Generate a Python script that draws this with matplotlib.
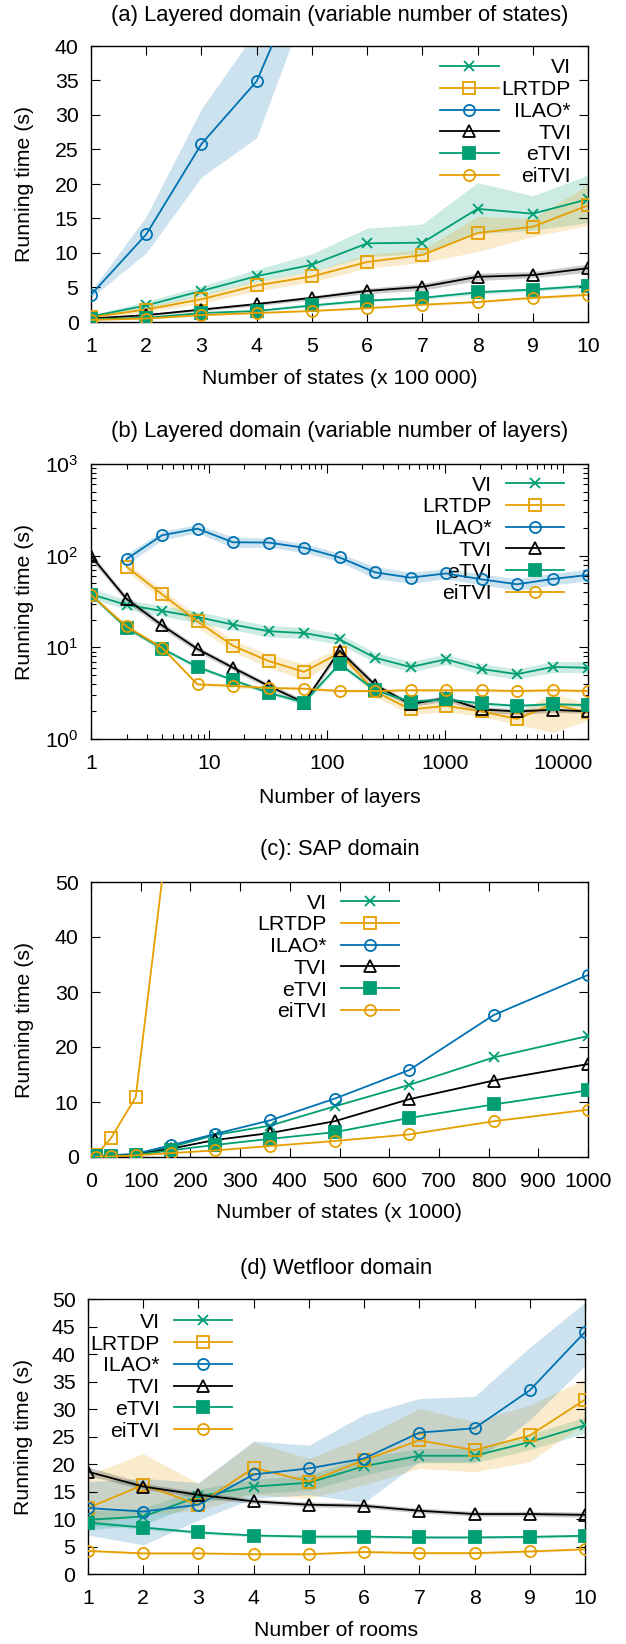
import matplotlib
matplotlib.use("Agg")
import matplotlib.pyplot as plt
import matplotlib.ticker as mticker

plt.rcParams["font.family"] = ["Liberation Sans", "DejaVu Sans"]
plt.rcParams["font.size"] = 15.3
plt.rcParams["mathtext.default"] = "regular"

ALGOS = ["VI", "LRTDP", "ILAO*", "TVI", "eTVI", "eiTVI"]
COLORS = ["#009e73", "#e69f00", "#0072b2", "#000000", "#009e73", "#e69f00"]
MARKERS = ["x", "s", "o", "^", "s", "o"]

# (a) layered domain, variable number of states (x 100 000)
a_x = [1, 2, 3, 4, 5, 6, 7, 8, 9, 10]
a_x_of = {"ILAO*": [1, 2, 3, 4, 5]}
a_mean = {
    "VI":    [0.8, 2.4, 4.5, 6.65, 8.3, 11.4, 11.5, 16.4, 15.7, 17.8],
    "LRTDP": [0.7, 1.8, 3.3, 5.3, 6.6, 8.7, 9.7, 12.9, 13.8, 16.9],
    "ILAO*": [3.95, 12.7, 25.8, 34.9, 53.5],
    "TVI":   [0.5, 1.0, 1.8, 2.6, 3.5, 4.5, 5.1, 6.55, 6.8, 7.8],
    "eTVI":  [0.4, 0.6, 1.3, 1.6, 2.4, 3.1, 3.5, 4.3, 4.7, 5.25],
    "eiTVI": [0.3, 0.5, 1.0, 1.3, 1.6, 2.0, 2.5, 2.9, 3.5, 3.95],
}
a_lo = {
    "VI":    [0.6, 2.0, 3.8, 5.9, 7.3, 9.5, 9.9, 12.8, 13.3, 14.4],
    "LRTDP": [0.5, 1.4, 2.7, 4.5, 5.8, 7.8, 8.6, 10.2, 12.4, 14.0],
    "ILAO*": [3.5, 10.0, 21.0, 26.7, 48.2],
    "TVI":   [0.4, 0.85, 1.6, 2.35, 3.2, 4.1, 4.6, 6.0, 6.4, 7.2],
    "eTVI":  [0.3, 0.5, 1.15, 1.45, 2.2, 2.9, 3.3, 4.0, 4.45, 4.95],
    "eiTVI": [0.25, 0.45, 0.9, 1.2, 1.5, 1.85, 2.35, 2.75, 3.3, 3.75],
}
a_hi = {
    "VI":    [1.0, 3.0, 5.2, 7.6, 9.9, 13.6, 14.2, 20.2, 18.3, 21.3],
    "LRTDP": [0.9, 2.2, 3.9, 6.0, 7.3, 9.8, 10.5, 15.3, 15.0, 19.9],
    "ILAO*": [4.5, 15.3, 30.9, 42.3, 70.0],
    "TVI":   [0.6, 1.15, 2.0, 2.85, 3.8, 4.9, 5.6, 7.1, 7.3, 8.4],
    "eTVI":  [0.5, 0.7, 1.45, 1.75, 2.6, 3.3, 3.7, 4.6, 4.95, 5.55],
    "eiTVI": [0.35, 0.55, 1.1, 1.4, 1.7, 2.15, 2.65, 3.05, 3.7, 4.15],
}

# (b) layered domain, variable number of layers
b_x = [1, 2, 4, 8, 16, 32, 64, 128, 256, 512, 1024, 2048, 4096, 8192, 16384]
b_x_of = {"LRTDP": b_x[1:], "ILAO*": b_x[1:]}
b_mean = {
    "VI":    [38, 29, 25, 21.4, 17.7, 15, 14.3, 12.2, 7.7, 6.1, 7.4, 5.8, 5.1, 6.1, 6.0],
    "LRTDP": [75.7, 38, 19.2, 10.4, 7.1, 5.4, 8.7, 3.3, 2.1, 2.3, 2.0, 1.65, 2.4, 1.95],
    "ILAO*": [91.7, 167, 197, 140, 139, 122, 95.6, 65.8, 57.6, 64, 55.2, 48.7, 55.7, 61.5],
    "TVI":   [99.6, 33.8, 17.4, 9.6, 6.0, 3.8, 2.5, 9.2, 3.9, 2.4, 2.8, 2.1, 2.0, 2.08, 2.0],
    "eTVI":  [37.3, 16.3, 9.7, 6.1, 4.4, 3.2, 2.5, 6.6, 3.4, 2.56, 2.7, 2.44, 2.3, 2.4, 2.34],
    "eiTVI": [37.3, 16.9, 9.9, 3.95, 3.8, 3.6, 3.54, 3.34, 3.34, 3.4, 3.4, 3.4, 3.34, 3.4, 3.34],
}
b_lo = {
    "VI":    [34, 26, 22, 18.5, 15.5, 13, 12.5, 10.8, 6.8, 5.4, 6.5, 5.1, 4.5, 5.3, 5.3],
    "LRTDP": [68, 33, 16.5, 9.0, 6.0, 4.4, 7.6, 2.9, 1.85, 2.0, 1.75, 1.45, 1.18, 1.6],
    "ILAO*": [80, 148, 178, 122, 124, 108, 86, 56, 50, 56, 48, 42, 48, 53],
    "TVI":   [90, 31, 16, 8.9, 5.6, 3.55, 2.35, 8.4, 3.6, 2.25, 2.6, 1.95, 1.85, 1.95, 1.9],
    "eTVI":  [35.5, 15.5, 9.2, 5.8, 4.2, 3.05, 2.38, 6.2, 3.25, 2.45, 2.58, 2.33, 2.2, 2.3, 2.24],
    "eiTVI": [35.8, 16.2, 9.5, 3.8, 3.65, 3.46, 3.4, 3.22, 3.22, 3.28, 3.28, 3.28, 3.22, 3.28, 3.22],
}
b_hi = {
    "VI":    [44, 33, 28.5, 24.5, 20.5, 17.2, 16.5, 14, 8.8, 7.0, 8.4, 6.6, 5.8, 7.0, 7.0],
    "LRTDP": [84, 43, 22, 12, 8.4, 6.6, 9.8, 3.8, 2.4, 2.6, 2.3, 1.9, 3.2, 2.4],
    "ILAO*": [104, 185, 218, 160, 155, 136, 106, 76, 66, 72, 63, 56, 64, 71],
    "TVI":   [108, 36.5, 18.8, 10.3, 6.4, 4.05, 2.7, 10, 4.2, 2.55, 3.0, 2.25, 2.15, 2.2, 2.1],
    "eTVI":  [39.2, 17.1, 10.2, 6.4, 4.6, 3.35, 2.62, 7.0, 3.55, 2.68, 2.83, 2.55, 2.4, 2.5, 2.45],
    "eiTVI": [38.8, 17.6, 10.3, 4.1, 3.95, 3.74, 3.68, 3.46, 3.46, 3.52, 3.52, 3.52, 3.46, 3.52, 3.46],
}

# (c) SAP domain (x 1000 states)
c_x = [10, 40, 90, 160, 250, 360, 490, 640, 810, 1000]
c_x_of = {"LRTDP": c_x[:4]}
c_mean = {
    "VI":    [0.2, 0.2, 0.5, 1.8, 4.0, 5.7, 9.2, 13.1, 18.1, 22.0],
    "LRTDP": [0.3, 3.4, 10.9, 63.0],
    "ILAO*": [0.2, 0.3, 0.6, 2.1, 4.2, 6.65, 10.6, 15.8, 25.8, 33.1],
    "TVI":   [0.1, 0.1, 0.4, 1.5, 3.1, 4.35, 6.5, 10.5, 13.9, 16.9],
    "eTVI":  [0.1, 0.1, 0.4, 1.2, 2.2, 3.3, 4.5, 7.1, 9.55, 12.1],
    "eiTVI": [0.05, 0.1, 0.3, 0.7, 1.2, 2.0, 2.9, 4.1, 6.5, 8.6],
}

# (d) Wetfloor domain
d_x = [1, 2, 3, 4, 5, 6, 7, 8, 9, 10]
d_mean = {
    "VI":    [9.85, 10.45, 14.1, 15.9, 16.6, 19.6, 21.5, 21.5, 24.0, 27.05],
    "LRTDP": [12.0, 16.2, 12.6, 19.3, 16.8, 20.7, 24.3, 22.5, 25.2, 31.7],
    "ILAO*": [12.0, 11.35, 12.6, 18.1, 19.2, 21.0, 25.7, 26.5, 33.4, 44.0],
    "TVI":   [18.6, 15.9, 14.4, 13.2, 12.6, 12.4, 11.5, 10.9, 10.9, 10.75],
    "eTVI":  [9.35, 8.45, 7.55, 7.0, 6.8, 6.8, 6.65, 6.65, 6.75, 6.95],
    "eiTVI": [4.2, 3.75, 3.75, 3.6, 3.6, 4.0, 3.8, 3.8, 4.1, 4.5],
}
d_lo = {
    "VI":    [8.0, 9.0, 12.8, 14.6, 15.2, 18.0, 20.2, 20.2, 22.6, 25.6],
    "LRTDP": [9.0, 10.7, 11.6, 14.4, 13.8, 16.2, 19.2, 18.6, 20.4, 27.5],
    "ILAO*": [7.1, 5.3, 9.8, 13.8, 14.4, 13.0, 20.4, 20.4, 28.0, 37.9],
    "TVI":   [17.9, 15.4, 13.9, 12.8, 12.2, 12.0, 11.1, 10.5, 10.5, 10.3],
    "eTVI":  [9.0, 8.15, 7.25, 6.75, 6.55, 6.55, 6.4, 6.4, 6.5, 6.7],
    "eiTVI": [4.0, 3.55, 3.55, 3.4, 3.4, 3.8, 3.6, 3.6, 3.9, 4.3],
}
d_hi = {
    "VI":    [11.5, 12.0, 15.4, 17.2, 18.0, 21.2, 22.8, 22.8, 25.4, 28.5],
    "LRTDP": [18.0, 21.9, 16.5, 24.0, 21.0, 25.0, 30.1, 27.7, 30.7, 35.5],
    "ILAO*": [16.8, 17.4, 16.6, 24.2, 23.4, 29.0, 31.9, 32.3, 41.2, 49.4],
    "TVI":   [19.5, 16.5, 14.9, 13.7, 13.1, 12.9, 12.0, 11.4, 11.4, 11.3],
    "eTVI":  [9.7, 8.75, 7.85, 7.25, 7.05, 7.05, 6.9, 6.9, 7.0, 7.2],
    "eiTVI": [4.4, 3.95, 3.95, 3.8, 3.8, 4.2, 4.0, 4.0, 4.3, 4.7],
}


def draw_series(ax, x, x_of, mean, lo=None, hi=None):
    if lo is not None:
        for name, color in zip(ALGOS, COLORS):
            xs = x_of.get(name, x)
            ax.fill_between(xs, lo[name], hi[name], color=color, alpha=0.2,
                            linewidth=0, zorder=1)
    for name, color, marker in zip(ALGOS, COLORS, MARKERS):
        xs = x_of.get(name, x)
        face = color if name == "eTVI" else "none"
        size = 7.5 if marker == "x" else 8
        ax.plot(xs, mean[name], color=color, marker=marker, ms=size, mfc=face,
                mec=color, mew=1.3, lw=1.3, label=name, zorder=3)


def style_axes(ax, title, xlabel, title_y, xlabel_y, ylabel_x):
    ax.tick_params(which="both", direction="in", top=True, right=True, width=0.8)
    ax.tick_params(which="major", length=6.5)
    ax.tick_params(which="minor", length=3.5)
    ax.tick_params(axis="x", pad=10.5)
    ax.tick_params(axis="y", pad=9)
    for s in ax.spines.values():
        s.set_linewidth(1.0)
    ax.set_title(title, y=title_y, pad=0, va="center", fontsize=15.8)
    ax.set_xlabel(xlabel, va="center")
    ax.xaxis.set_label_coords(0.5, xlabel_y)
    ax.set_ylabel("Running time (s)", va="center")
    ax.yaxis.set_label_coords(ylabel_x, 0.5)


def add_legend(ax, anchor, markerfirst, textpad):
    leg = ax.legend(loc="upper right", bbox_to_anchor=anchor, frameon=False,
                    borderpad=0, borderaxespad=0, handlelength=2.75,
                    handletextpad=textpad, labelspacing=0.13,
                    markerfirst=markerfirst)
    leg.set_zorder(1.5)
    return leg


fig = plt.figure(figsize=(6.26, 16.44), dpi=100)
H = 1644.0
W = 626.0


def axes_at(left, right, top, bottom):
    return fig.add_axes([left / W, 1 - bottom / H, (right - left) / W, (bottom - top) / H])


# (a)
ax = axes_at(91, 588, 46, 322)
draw_series(ax, a_x, a_x_of, a_mean, a_lo, a_hi)
ax.set_xlim(1, 10)
ax.set_ylim(0, 40)
ax.set_xticks(range(1, 11))
ax.set_yticks(range(0, 41, 5))
style_axes(ax, "(a) Layered domain (variable number of states)",
           "Number of states (x 100 000)", 1.1123, -0.2029, -0.1348)
leg_a = add_legend(ax, (0.966, 0.955), True, 0.15)

# (b)
ax = axes_at(91, 588, 464, 739)
draw_series(ax, b_x, b_x_of, b_mean, b_lo, b_hi)
ax.set_xscale("log")
ax.set_yscale("log")
ax.set_xlim(1, 16384)
ax.set_ylim(1, 1000)
ax.xaxis.set_major_locator(mticker.FixedLocator([1, 10, 100, 1000, 10000]))
ax.xaxis.set_major_formatter(mticker.FuncFormatter(lambda v, p: f"{v:g}"))
ax.xaxis.set_minor_locator(mticker.LogLocator(base=10, subs=range(2, 10), numticks=20))
ax.xaxis.set_minor_formatter(mticker.NullFormatter())
ax.yaxis.set_minor_locator(mticker.LogLocator(base=10, subs=range(2, 10), numticks=20))
ax.yaxis.set_minor_formatter(mticker.NullFormatter())
style_axes(ax, "(b) Layered domain (variable number of layers)",
           "Number of layers", 1.1164, -0.211, -0.1348)
add_legend(ax, (0.952, 0.958), False, 0.65)

# (c)
ax = axes_at(91, 588, 882, 1157)
draw_series(ax, c_x, c_x_of, c_mean)
ax.set_xlim(0, 1000)
ax.set_ylim(0, 50)
ax.set_xticks(range(0, 1001, 100))
ax.set_yticks(range(0, 51, 10))
style_axes(ax, "(c): SAP domain", "Number of states (x 1000)", 1.12, -0.2036, -0.1348)
add_legend(ax, (0.62, 0.958), False, 0.65)

# (d)
ax = axes_at(88, 585, 1299, 1574)
draw_series(ax, d_x, {}, d_mean, d_lo, d_hi)
ax.set_xlim(1, 10)
ax.set_ylim(0, 50)
ax.set_xticks(range(1, 11))
ax.set_yticks(range(0, 51, 5))
style_axes(ax, "(d) Wetfloor domain", "Number of rooms", 1.1127, -0.207, -0.1288)
add_legend(ax, (0.29, 0.95), False, 0.65)

# right-justify the labels of legend (a), where the samples sit on the left
fig.canvas.draw()
renderer = fig.canvas.get_renderer()
widths = [t.get_window_extent(renderer).width for t in leg_a.get_texts()]
column = leg_a._legend_handle_box.get_children()[0]
for row, w in zip(column.get_children(), widths):
    row.sep += (max(widths) - w) * 72.0 / fig.dpi

fig.savefig("out.png", dpi=100)
